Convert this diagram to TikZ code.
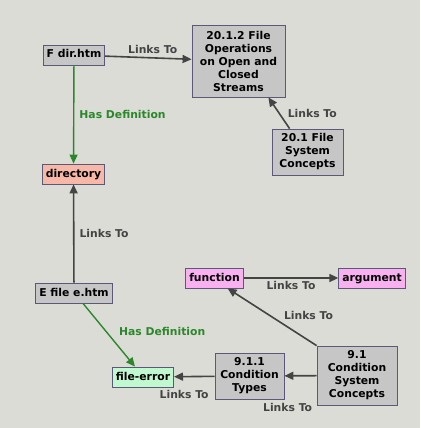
\documentclass[tikz,border=0pt]{standalone}
\usepackage{xcolor}
\usepackage{fontspec}
\setmainfont{DejaVu Sans}
\usepackage{tikz}
\usetikzlibrary{arrows.meta, positioning}

\definecolor{bgcol}{HTML}{DCDCD6}
\definecolor{boxgray}{HTML}{C6C6C6}
\definecolor{boxline}{HTML}{5A5A78}
\definecolor{linkcol}{HTML}{444444}
\definecolor{defcol}{HTML}{2A882A}
\definecolor{salmon}{HTML}{F8B8A8}
\definecolor{pinkish}{HTML}{F8B0F0}
\definecolor{mint}{HTML}{C0F8D0}

\begin{document}
\begin{tikzpicture}[x=1pt, y=-1pt,
    font=\fontsize{10.8}{13}\selectfont\bfseries,
    every node/.style={inner sep=0pt},
    box/.style={draw=boxline, fill=boxgray, line width=0.8pt, align=center, inner xsep=3.5pt, inner ysep=2.5pt, minimum height=20pt},
    onerow/.style={box, text height=8pt, text depth=2pt},
    links/.style={-{Triangle[length=9pt, width=8pt]}, draw=linkcol, line width=1.6pt},
    hasdef/.style={-{Triangle[length=9pt, width=8pt]}, draw=defcol, line width=1.4pt},
    lbl/.style={text=linkcol},
    dlbl/.style={text=defcol}]

    % Background
    \fill[bgcol] (0,0) rectangle (420,428);

    % Define nodes
    \node (fdir) [onerow] at (74,55) {F dir.htm};
    \node (fileops) [box, minimum width=93pt, minimum height=72pt] at (238.5,61) {20.1.2 File\\Operations\\on Open and\\Closed\\Streams};
    \node (fsconcepts) [box, minimum width=71pt, minimum height=46pt] at (307.5,152) {20.1 File\\System\\Concepts};
    \node (directory) [onerow, fill=salmon] at (73.5,174) {directory};
    \node (efile) [onerow] at (74,293) {E file e.htm};
    \node (function) [onerow, fill=pinkish] at (214.5,278) {function};
    \node (argument) [onerow, fill=pinkish] at (372,278) {argument};
    \node (condtypes) [box, minimum width=69pt, minimum height=46pt] at (249.5,376) {9.1.1\\Condition\\Types};
    \node (condsys) [box, minimum width=80pt, minimum height=59pt] at (357,375.5) {9.1\\Condition\\System\\Concepts};
    \node (fileerror) [onerow, fill=mint] at (143,377) {file-error};

    % Define connections
    \draw[links] (fdir) -- (fileops) node[lbl, pos=0.55, above=3pt] {Links To};
    \draw[hasdef] (fdir) -- (directory) node[dlbl, midway, right=5pt] {Has Definition};
    \draw[links] ([xshift=18pt]fsconcepts.north west) -- ([xshift=-17pt]fileops.south east) node[lbl, midway, right=8pt] {Links To};
    \draw[links] (efile) -- (directory) node[lbl, midway, right=5pt] {Links To};
    \draw[links] (function) -- (argument) node[lbl, midway, below=2pt] {Links To};
    \draw[links] (condsys.north west) -- ([xshift=-16pt]function.south east) node[lbl, pos=0.42, above right=1pt and 4pt] {Links To};
    \draw[links] (condsys) -- (condtypes) node[lbl, pos=0.9, below=27pt] {Links To};
    \draw[links] (condtypes) -- (fileerror) node[lbl, pos=0.75, below=13pt] {Links To};
    \draw[hasdef] ([xshift=9pt]efile.south) -- ([xshift=-8pt]fileerror.north) node[dlbl, pos=0.45, right=12pt] {Has Definition};

\end{tikzpicture}
\end{document}
